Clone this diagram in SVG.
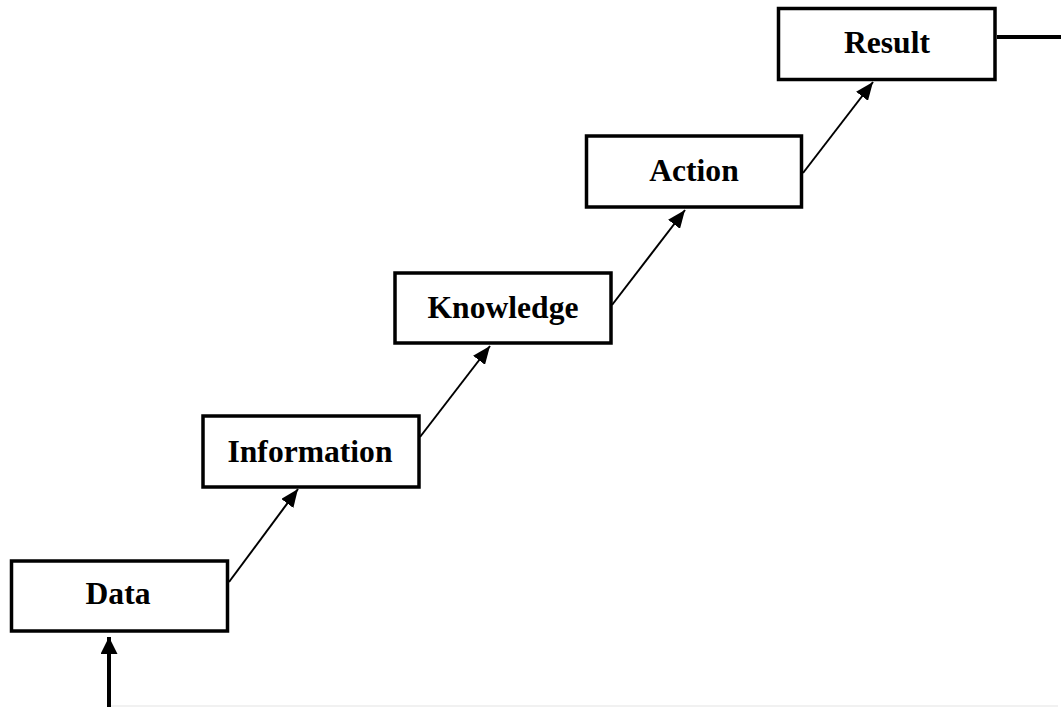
<svg xmlns="http://www.w3.org/2000/svg" width="1061" height="707" viewBox="0 0 1061 707">
<style>
.box{fill:#fff;stroke:#000;stroke-width:3.5}
.lbl{font-family:"Liberation Serif","Times New Roman",serif;font-weight:bold;font-size:31.6px;text-anchor:middle;fill:#000}
.thin{stroke:#000;stroke-width:2;fill:none}
.thick{stroke:#000;stroke-width:4;fill:none}
</style>
<defs>
<marker id="ah" markerUnits="userSpaceOnUse" markerWidth="19" markerHeight="15" refX="18" refY="7.5" orient="auto">
<path d="M0,0 L18,7.5 L0,15 Z" fill="#000"/>
</marker>
<marker id="ahb" markerUnits="userSpaceOnUse" markerWidth="18" markerHeight="17" refX="17" refY="8.5" orient="auto">
<path d="M0,0 L17,8.5 L0,17 Z" fill="#000"/>
</marker>
</defs>
<rect x="0" y="0" width="1061" height="707" fill="#fff"/>
<line x1="111" y1="706" x2="1058" y2="706" stroke="#ececec" stroke-width="1.5"/>
<g id="connectors">
<line class="thin" x1="229" y1="582" x2="298" y2="489" marker-end="url(#ah)"/>
<line class="thin" x1="420" y1="437" x2="490" y2="346" marker-end="url(#ah)"/>
<line class="thin" x1="612" y1="305" x2="685" y2="210" marker-end="url(#ah)"/>
<line class="thin" x1="803" y1="173" x2="873" y2="82" marker-end="url(#ah)"/>
<line class="thick" x1="109" y1="707" x2="109" y2="637" marker-end="url(#ahb)"/>
<line class="thick" x1="997" y1="37" x2="1061" y2="37"/>
</g>
<g id="data">
<rect class="box" x="11.5" y="561" width="216" height="70"/>
<text class="lbl" x="118" y="604">Data</text>
</g>
<g id="information">
<rect class="box" x="203" y="416" width="216" height="71"/>
<text class="lbl" x="310" y="462">Information</text>
</g>
<g id="knowledge">
<rect class="box" x="395" y="273" width="216" height="70"/>
<text class="lbl" x="503" y="318">Knowledge</text>
</g>
<g id="action">
<rect class="box" x="586.5" y="136" width="215" height="71"/>
<text class="lbl" x="694" y="181">Action</text>
</g>
<g id="result">
<rect class="box" x="778.5" y="8.5" width="216.5" height="71"/>
<text class="lbl" x="887" y="53">Result</text>
</g>
</svg>
